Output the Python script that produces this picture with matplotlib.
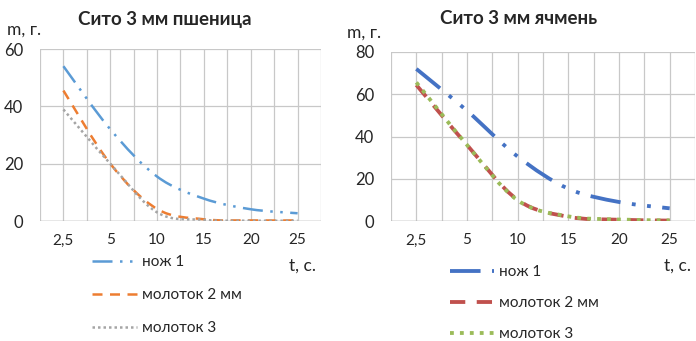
import matplotlib
matplotlib.use("Agg")
import matplotlib.pyplot as plt
from matplotlib.path import Path
from matplotlib.patches import PathPatch
from matplotlib.lines import Line2D
from matplotlib.ticker import FixedLocator, MultipleLocator

plt.rcParams['font.family'] = ['Lato', 'DejaVu Sans']

# ---- data ----
categories = ["2,5", "5", "10", "15", "20", "25"]

wheat_knife1 = [54.0, 32.0, 15.5, 7.8, 4.1, 2.7]
wheat_hammer2 = [45.5, 20.0, 4.2, 0.6, 0.2, 0.2]
wheat_hammer3 = [38.9, 20.0, 3.0, 0.4, 0.1, 0.1]

barley_knife1 = [72.0, 52.2, 30.5, 15.3, 9.0, 6.0]
barley_hammer2 = [64.4, 36.0, 10.0, 2.0, 0.6, 0.2]
barley_hammer3 = [65.6, 36.0, 9.8, 2.2, 0.7, 0.3]

series_names = ["нож 1", "молоток 2 мм", "молоток 3"]
titles = ["Сито 3 мм пшеница", "Сито 3 мм ячмень"]
y_label = "m, г."
x_label = "t, с."


def smooth_path(xs, ys):
    """Excel-like smoothed line: cubic Bezier through the points."""
    n = len(xs)
    verts = [(xs[0], ys[0])]
    codes = [Path.MOVETO]
    for i in range(n - 1):
        i0 = i - 1 if i > 0 else i
        i3 = i + 2 if i + 2 < n else i + 1
        c1 = (xs[i] + (xs[i + 1] - xs[i0]) / 6.0, ys[i] + (ys[i + 1] - ys[i0]) / 6.0)
        c2 = (xs[i + 1] - (xs[i3] - xs[i]) / 6.0, ys[i + 1] - (ys[i3] - ys[i]) / 6.0)
        verts += [c1, c2, (xs[i + 1], ys[i + 1])]
        codes += [Path.CURVE4] * 3
    return Path(verts, codes)


W, H = 696, 341
fig = plt.figure(figsize=(W / 100, H / 100), dpi=100)

ax1 = fig.add_axes([40 / W, 1 - 221 / H, (321 - 40) / W, (221 - 49) / H])
ax2 = fig.add_axes([391 / W, 1 - 221 / H, (695 - 391) / W, (221 - 52) / H])

grid_c = "#C8C8C8"
txt_c = '#262626'
xpos = list(range(len(categories)))


def style_axis(ax, ymax):
    ax.set_xlim(-0.5, len(categories) - 0.5)
    ax.set_ylim(0, ymax)
    ax.set_xticks(xpos)
    ax.set_xticklabels(categories)
    ax.xaxis.set_minor_locator(FixedLocator([i - 0.5 for i in range(len(categories) + 1)]))
    ax.yaxis.set_major_locator(MultipleLocator(20))
    ax.grid(True, which='both', axis='x', color=grid_c, lw=0.9)
    ax.grid(True, which='major', axis='y', color=grid_c, lw=0.9)
    ax.set_axisbelow(True)
    for s in ax.spines.values():
        s.set_visible(False)
    ax.axhline(0, color="#A6A6A6", lw=1.0, zorder=1)
    ax.tick_params(which='both', length=0)
    ax.tick_params(axis='x', labelsize=11, pad=9, labelcolor=txt_c)
    ax.tick_params(axis='y', labelsize=12, pad=12, labelcolor=txt_c)


style_axis(ax1, 60)
style_axis(ax2, 80)


def add_series(ax, ys, color, lw, dashes, cap='butt'):
    p = PathPatch(smooth_path(xpos, ys), fill=False, edgecolor=color, lw=lw,
                  linestyle=(0, dashes), capstyle=cap, zorder=3)
    ax.add_patch(p)
    return Line2D([], [], color=color, lw=lw, linestyle=(0, dashes), dash_capstyle=cap)


lw1 = 1.8
left_colors = ["#5B9BD5", "#ED7D31", "#A5A5A5"]
h1 = [
    add_series(ax1, wheat_knife1, left_colors[0], lw1, (8, 3, 1, 3, 1, 3)),
    add_series(ax1, wheat_hammer2, left_colors[1], lw1, (4, 3)),
    add_series(ax1, wheat_hammer3, left_colors[2], lw1, (1, 1.2)),
]

lw2 = 2.75
right_colors = ["#4472C4", "#C0504D", "#9BBB59"]
h2 = [
    add_series(ax2, barley_knife1, right_colors[0], lw2, (8, 3, 1, 3, 1, 3)),
    add_series(ax2, barley_hammer2, right_colors[1], lw2, (4, 3)),
    add_series(ax2, barley_hammer3, right_colors[2], lw2, (1, 1.6)),
]

# titles and axis labels
fig.text(165 / W, 1 - 20 / H, titles[0], ha='center', va='center', fontsize=13.5,
         fontweight='bold', color=txt_c)
fig.text(519 / W, 1 - 18 / H, titles[1], ha='center', va='center', fontsize=13.5,
         fontweight='bold', color=txt_c)
fig.text(7 / W, 1 - 30 / H, y_label, ha='left', va='center', fontsize=12.5, color=txt_c)
fig.text(347 / W, 1 - 33 / H, y_label, ha='left', va='center', fontsize=12.5, color=txt_c)
fig.text(289 / W, 1 - 266 / H, x_label, ha='left', va='center', fontsize=12.5, color=txt_c)
fig.text(664 / W, 1 - 266 / H, x_label, ha='left', va='center', fontsize=12.5, color=txt_c)

leg_kw = dict(frameon=False, fontsize=11, borderpad=0, borderaxespad=0,
              handletextpad=0.33, labelcolor=txt_c)
fig.legend(h1, series_names, loc='upper left', bbox_to_anchor=(92 / W, 1 - 255 / H),
           handlelength=2.95, labelspacing=1.25, **leg_kw)
fig.legend(h2, series_names, loc='upper left', bbox_to_anchor=(450 / W, 1 - 265 / H),
           handlelength=2.85, labelspacing=1.12, **leg_kw)

fig.savefig("out.png", dpi=100)
